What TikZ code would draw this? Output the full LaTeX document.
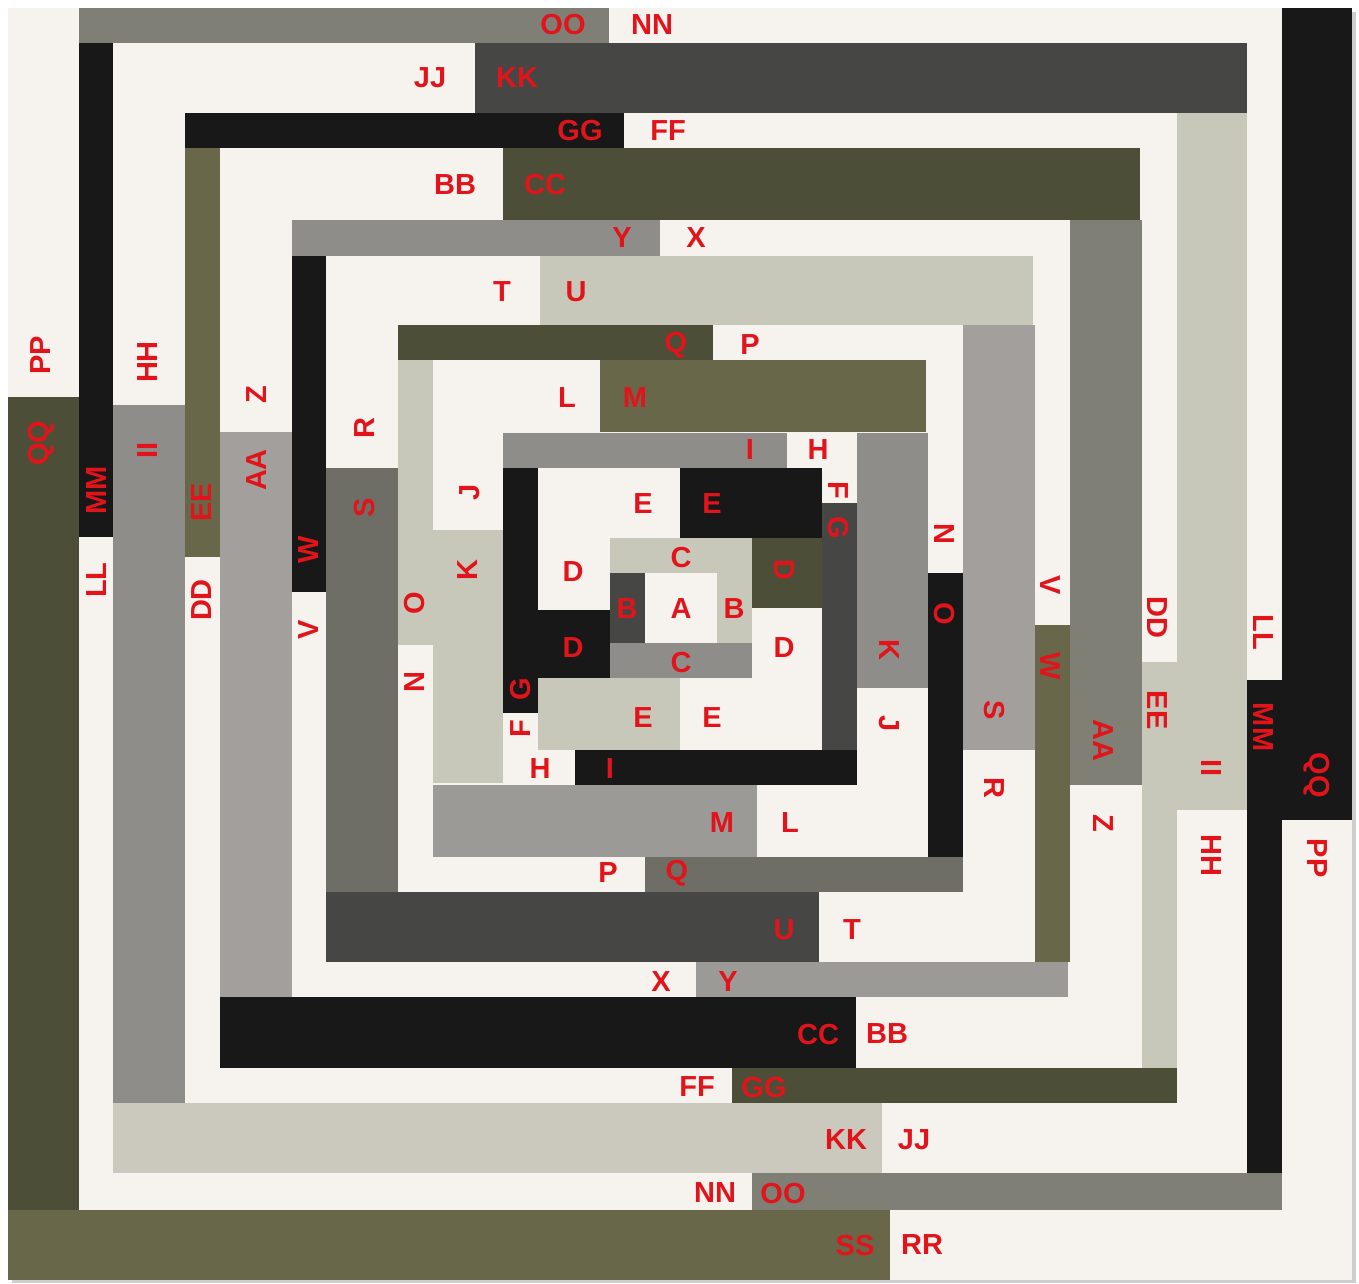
\documentclass[tikz,border=0pt]{standalone}
\usepackage{fontspec}
\setmainfont{Liberation Sans}
\definecolor{cream}{HTML}{F6F3EE}
\definecolor{blk}{HTML}{181818}
\definecolor{olvD}{HTML}{4C4E37}
\definecolor{olvM}{HTML}{686749}
\definecolor{grayG}{HTML}{807F76}
\definecolor{grayS}{HTML}{6F6E66}
\definecolor{grayM}{HTML}{8F8D89}
\definecolor{grayB}{HTML}{9C9A96}
\definecolor{grayL}{HTML}{A29F9C}
\definecolor{lightG}{HTML}{C8C8BA}
\definecolor{lightK}{HTML}{CBC9BD}
\definecolor{dgray}{HTML}{464645}
\definecolor{labred}{HTML}{E2141B}
\definecolor{shadow}{HTML}{CFCFCF}
\tikzset{
  lab/.style={text=labred, font=\fontsize{29}{29}\selectfont\bfseries, inner sep=0pt, anchor=center},
  up/.style={lab, rotate=90},
  dn/.style={lab, rotate=-90},
}
\begin{document}
\begin{tikzpicture}[x=1pt,y=-1pt]
\useasboundingbox (0,0) rectangle (1359,1283);
\fill[white] (0,0) rectangle (1359,1283);
% rug shadow and base
\fill[shadow] (12,12) rectangle (1356,1283);
\fill[cream] (8,8) rectangle (1352,1280);
% outermost ring
\fill[olvD] (8,397) rectangle (79,1210);      % QQ left
\fill[olvM] (8,1210) rectangle (890,1280);    % SS
\fill[grayG] (79,8) rectangle (609,43);       % OO top
\fill[blk] (79,43) rectangle (113,537);       % MM left
\fill[dgray] (475,43) rectangle (1247,113);   % KK top
\fill[blk] (1282,8) rectangle (1352,820);     % QQ right
\fill[blk] (1247,680) rectangle (1282,1173);  % MM right
\fill[grayG] (752,1173) rectangle (1282,1210);% OO bottom
% ring II / KK / GG / EE
\fill[blk] (185,113) rectangle (624,148);     % GG top
\fill[grayM] (113,405) rectangle (185,1103);  % II left
\fill[olvM] (185,148) rectangle (220,557);    % EE left
\fill[lightG] (1177,113) rectangle (1247,810);% II right
\fill[lightK] (113,1103) rectangle (882,1173);% KK bottom
\fill[olvD] (732,1068) rectangle (1177,1103); % GG bottom
\fill[lightG] (1142,662) rectangle (1177,1068);% EE right
% ring CC / AA / Y / W
\fill[olvD] (503,148) rectangle (1140,220);   % CC top
\fill[grayL] (220,432) rectangle (292,997);   % AA left
\fill[grayG] (1070,220) rectangle (1142,785); % AA right
\fill[blk] (220,997) rectangle (856,1068);    % CC bottom
\fill[grayM] (292,220) rectangle (660,256);   % Y top
\fill[blk] (292,256) rectangle (326,592);     % W left
\fill[grayB] (696,962) rectangle (1068,997);  % Y bottom
\fill[olvM] (1035,625) rectangle (1070,962);  % W right
% ring U / S / Q / O
\fill[lightG] (540,256) rectangle (1033,325); % U top
\fill[grayS] (326,468) rectangle (398,892);   % S left
\fill[dgray] (326,892) rectangle (819,962);   % U bottom
\fill[grayL] (963,325) rectangle (1035,750);  % S right
\fill[olvD] (398,325) rectangle (713,360);    % Q top
\fill[lightG] (398,360) rectangle (433,645);  % O left
\fill[grayS] (645,857) rectangle (963,892);   % Q bottom
\fill[blk] (928,573) rectangle (963,857);     % O right
% ring M / K / I
\fill[olvM] (600,360) rectangle (926,432);    % M top
\fill[lightG] (433,530) rectangle (503,783);  % K left
\fill[grayB] (433,785) rectangle (757,857);   % M bottom
\fill[grayM] (857,433) rectangle (928,688);   % K right
\fill[grayM] (503,433) rectangle (787,468);   % I top
\fill[blk] (575,750) rectangle (857,785);     % I bottom
% centre
\fill[blk] (503,468) rectangle (538,713);     % G left
\fill[blk] (538,610) rectangle (610,678);     % D black
\fill[blk] (680,468) rectangle (822,538);     % E black
\fill[dgray] (822,503) rectangle (857,750);   % G right
\fill[lightG] (610,538) rectangle (752,573);  % C top
\fill[lightG] (717,573) rectangle (752,643);  % B right
\fill[olvD] (752,538) rectangle (822,608);    % D olive
\fill[dgray] (610,573) rectangle (645,643);   % B left
\fill[grayM] (610,643) rectangle (752,678);   % C bottom
\fill[lightG] (538,678) rectangle (680,750);  % E lower left
% ---- labels: top half (upright)
\node[lab] (tOO) at (563,25) {OO};
\node[lab] (tNN) at (652,25) {NN};
\node[lab] (tJJ) at (430,78) {JJ};
\node[lab] (tKK) at (517,78) {KK};
\node[lab] (tGG) at (580,131) {GG};
\node[lab] (tFF) at (668,131) {FF};
\node[lab] (tBB) at (455,185) {BB};
\node[lab] (tCC) at (545,185) {CC};
\node[lab] (tY) at (622,238) {Y};
\node[lab] (tX) at (696,238) {X};
\node[lab] (tT) at (502,292) {T};
\node[lab] (tU) at (576,292) {U};
\node[lab] (tQ) at (676,345) {Q};
\node[lab] (tP) at (750,345) {P};
\node[lab] (tL) at (567,398) {L};
\node[lab] (tM) at (635,398) {M};
\node[lab] (tI) at (750,450) {I};
\node[lab] (tH) at (818,450) {H};
% centre labels
\node[lab] (cE1) at (643,504) {E};
\node[lab] (cE2) at (712,504) {E};
\node[lab] (cC1) at (681,558) {C};
\node[lab] (cD1) at (573,572) {D};
\node[dn] (cD2) at (784,570) {D};
\node[lab] (cB1) at (627,609) {B};
\node[lab] (cA) at (681,609) {A};
\node[lab] (cB2) at (734,609) {B};
\node[lab] (cD3) at (573,648) {D};
\node[lab] (cD4) at (784,648) {D};
\node[lab] (cC2) at (681,663) {C};
\node[lab] (cE3) at (643,718) {E};
\node[lab] (cE4) at (712,718) {E};
\node[lab] (cH) at (540,769) {H};
\node[lab] (cI) at (610,769) {I};
\node[dn] (cF1) at (838,490) {F};
\node[dn] (cG1) at (838,528) {G};
\node[up] (cG2) at (521,689) {G};
\node[up] (cF2) at (521,729) {F};
% bottom half (upright)
\node[lab] (bM) at (722,823) {M};
\node[lab] (bL) at (790,823) {L};
\node[lab] (bP) at (608,873) {P};
\node[lab] (bQ) at (677,873) {Q};
\node[lab] (bU) at (784,930) {U};
\node[lab] (bT) at (852,930) {T};
\node[lab] (bX) at (661,982) {X};
\node[lab] (bY) at (728,982) {Y};
\node[lab] (bCC) at (818,1034) {CC};
\node[lab] (bBB) at (887,1034) {BB};
\node[lab] (bFF) at (697,1087) {FF};
\node[lab] (bGG) at (764,1087) {GG};
\node[lab] (bKK) at (846,1140) {KK};
\node[lab] (bJJ) at (914,1140) {JJ};
\node[lab] (bNN) at (715,1193) {NN};
\node[lab] (bOO) at (783,1193) {OO};
\node[lab] (bSS) at (855,1245) {SS};
\node[lab] (bRR) at (922,1245) {RR};
% left side (reading upward)
\node[up] (lPP) at (41,355) {PP};
\node[up] (lQQ) at (41,443) {QQ};
\node[up] (lHH) at (148,362) {HH};
\node[up] (lII) at (148,450) {II};
\node[up] (lMM) at (97,490) {MM};
\node[up] (lLL) at (97,580) {LL};
\node[up] (lZ) at (257,395) {Z};
\node[up] (lAA) at (257,470) {AA};
\node[up] (lEE) at (202,502) {EE};
\node[up] (lDD) at (202,600) {DD};
\node[up] (lR) at (365,428) {R};
\node[up] (lS) at (365,508) {S};
\node[up] (lW) at (309,550) {W};
\node[up] (lV) at (309,630) {V};
\node[up] (lJ) at (470,492) {J};
\node[up] (lK) at (468,570) {K};
\node[up] (lO) at (415,603) {O};
\node[up] (lN) at (415,682) {N};
% right side (reading downward)
\node[dn] (rN) at (944,534) {N};
\node[dn] (rO) at (944,614) {O};
\node[dn] (rK) at (889,650) {K};
\node[dn] (rJ) at (889,724) {J};
\node[dn] (rV) at (1050,585) {V};
\node[dn] (rW) at (1050,666) {W};
\node[dn] (rS) at (994,710) {S};
\node[dn] (rR) at (994,788) {R};
\node[dn] (rAA) at (1103,740) {AA};
\node[dn] (rZ) at (1103,823) {Z};
\node[dn] (rDD) at (1157,617) {DD};
\node[dn] (rEE) at (1157,710) {EE};
\node[dn] (rLL) at (1263,632) {LL};
\node[dn] (rMM) at (1263,727) {MM};
\node[dn] (rII) at (1211,768) {II};
\node[dn] (rHH) at (1211,855) {HH};
\node[dn] (rQQ) at (1317,775) {QQ};
\node[dn] (rPP) at (1317,858) {PP};
\end{tikzpicture}
\end{document}
